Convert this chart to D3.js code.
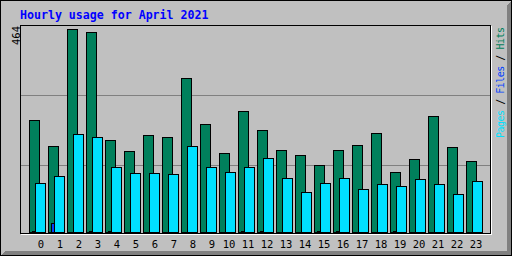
<!DOCTYPE html>
<html>
<head>
<meta charset="utf-8">
<script src="https://cdn.jsdelivr.net/npm/d3@7"></script>
<style>
  body { margin: 0; background: #fff; }
  svg { display: block; }
  text { font-family: "DejaVu Sans Mono", monospace; }
</style>
</head>
<body>
<svg id="chart"></svg>
<script>
// data
const hours = d3.range(0, 24);
const hits  = [256, 197, 464, 457, 210, 185, 222, 217, 352, 247, 181, 277,
               233, 187, 176, 153, 187, 199, 226, 137, 167, 265, 194, 162];
const files = [2, 20, 0, 2, 2, 0, 0, 0, 0, 0, 0, 2,
               2, 0, 0, 2, 2, 0, 0, 2, 0, 0, 0, 0];
const pages = [112, 128, 224, 217, 149, 135, 135, 133, 197, 149, 137, 149,
               169, 123, 91, 112, 123, 98, 110, 105, 121, 110, 87, 117];
const maxValue = 464;
const titleText = "Hourly usage for April 2021";

// layout
const W = 512, H = 256;
const plot = {left: 20, top: 25, right: 490, bottom: 233};
const barW = 10, barShift = 3;

const svg = d3.select('#chart')
    .attr('width', W)
    .attr('height', H)
    .attr('shape-rendering', 'crispEdges');

// background + bevel
svg.append('rect').attr('x', 0).attr('y', 0).attr('width', W).attr('height', H).attr('fill', '#c0c0c0');
svg.append('polygon')
    .attr('points', [[W, 0], [W, H], [0, H], [5, H - 5], [W - 5, H - 5], [W - 5, 5]].join(' '))
    .attr('fill', '#808080');
svg.append('rect')
    .attr('x', 0.5).attr('y', 0.5).attr('width', W - 1).attr('height', H - 1)
    .attr('fill', 'none').attr('stroke', '#000');

// plot frame
svg.append('line').attr('x1', plot.left + 1).attr('x2', plot.right + 2)
    .attr('y1', plot.bottom + 1.5).attr('y2', plot.bottom + 1.5).attr('stroke', '#fff');
svg.append('line').attr('x1', plot.right + 1.5).attr('x2', plot.right + 1.5)
    .attr('y1', plot.top + 1).attr('y2', plot.bottom + 2).attr('stroke', '#fff');
svg.append('rect')
    .attr('x', plot.left + 0.5).attr('y', plot.top + 0.5)
    .attr('width', plot.right - plot.left).attr('height', plot.bottom - plot.top)
    .attr('fill', 'none').attr('stroke', '#000');

// grid lines (thirds of the plot)
[1, 2].forEach(function(k) {
    const gy = plot.top + k * 70 + 0.5;
    svg.append('line')
        .attr('x1', plot.left + 1).attr('x2', plot.right)
        .attr('y1', gy).attr('y2', gy)
        .attr('stroke', '#808080');
});

// scales
const x = d3.scaleBand()
    .domain(hours)
    .range([29, 29 + 19 * hours.length])
    .padding(0);
const y = d3.scaleLinear()
    .domain([0, maxValue])
    .range([232, 29]);

const series = [
    {name: 'hits', values: hits, color: '#00805c', shift: 0},
    {name: 'files', values: files, color: '#0040ff', shift: barShift},
    {name: 'pages', values: pages, color: '#00e0ff', shift: barShift * 2}
];

series.forEach(function(s) {
    svg.append('g').attr('class', 'bars-' + s.name)
        .selectAll('rect')
        .data(hours.filter(h => s.values[h] > 0))
        .enter()
        .append('rect')
        .attr('x', d => x(d) + s.shift + 0.5)
        .attr('y', d => Math.round(y(s.values[d])) + 0.5)
        .attr('width', barW)
        .attr('height', d => 232 - Math.round(y(s.values[d])))
        .attr('fill', s.color)
        .attr('stroke', '#000');
});

// hour labels
svg.append('g').selectAll('text')
    .data(hours)
    .enter()
    .append('text')
    .attr('x', d => x(d) + (d < 10 ? 12 : 10))
    .attr('y', 248)
    .attr('text-anchor', 'middle')
    .attr('font-size', '10.5px')
    .attr('fill', '#000')
    .text(d => d);

// title
svg.append('text')
    .attr('x', 20).attr('y', 19)
    .attr('font-size', '11.6px')
    .attr('font-weight', 'bold')
    .attr('fill', '#0000ff')
    .text(titleText);

// max value label
svg.append('text')
    .attr('transform', 'translate(19.5,45) rotate(-90)')
    .attr('font-size', '10.5px')
    .attr('fill', '#000')
    .text(maxValue);

// legend
const legend = svg.append('text')
    .attr('transform', 'translate(504,138) rotate(-90)')
    .attr('font-size', '10px')
    .attr('textLength', 111)
    .attr('lengthAdjust', 'spacing');
legend.append('tspan').attr('fill', '#00e0ff').text('Pages');
legend.append('tspan').attr('fill', '#000').text(' / ');
legend.append('tspan').attr('fill', '#0040ff').text('Files');
legend.append('tspan').attr('fill', '#000').text(' / ');
legend.append('tspan').attr('fill', '#00805c').text('Hits');
</script>
</body>
</html>
